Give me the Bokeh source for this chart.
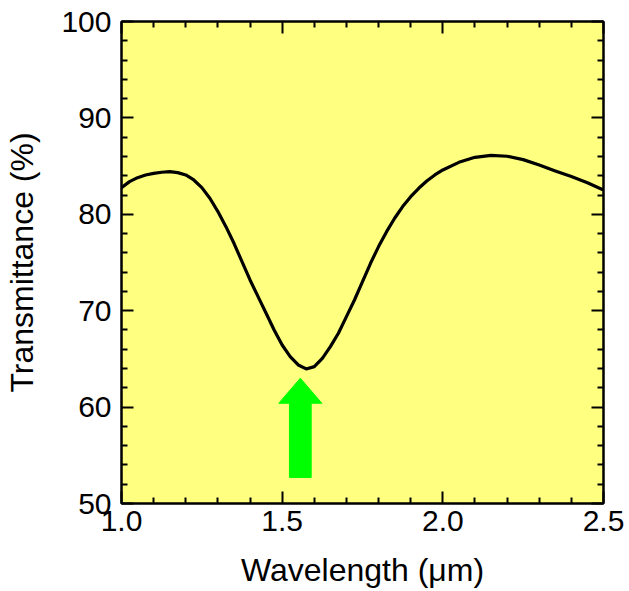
from bokeh.plotting import figure
from bokeh.models import LinearAxis, FixedTicker, Range1d, NumeralTickFormatter
from bokeh.embed import file_html
from bokeh.resources import INLINE

# Data
wavelength = [1.000, 1.025, 1.050, 1.075, 1.100, 1.125, 1.150, 1.175, 1.200, 1.225,
              1.250, 1.275, 1.300, 1.325, 1.350, 1.375, 1.400, 1.425, 1.450, 1.475,
              1.500, 1.525, 1.550, 1.575, 1.600, 1.625, 1.650, 1.675, 1.700, 1.725,
              1.750, 1.775, 1.800, 1.825, 1.850, 1.875, 1.900, 1.925, 1.950, 1.975,
              2.000, 2.050, 2.100, 2.150, 2.200, 2.250, 2.300, 2.350, 2.400, 2.450,
              2.500]
transmittance = [82.77, 83.39, 83.80, 84.08, 84.25, 84.36, 84.43, 84.32, 84.08, 83.56,
                 82.77, 81.66, 80.28, 78.72, 76.99, 75.09, 73.19, 71.46, 69.73, 68.00,
                 66.44, 65.24, 64.37, 63.96, 64.20, 65.06, 66.27, 67.66, 69.38, 71.11,
                 73.02, 74.92, 76.65, 78.20, 79.59, 80.80, 81.83, 82.70, 83.46, 84.08,
                 84.60, 85.39, 85.91, 86.12, 86.02, 85.67, 85.12, 84.50, 83.91, 83.28,
                 82.52]

x_ticks = [1.0, 1.5, 2.0, 2.5]
x_minor = [1.1, 1.2, 1.3, 1.4, 1.6, 1.7, 1.8, 1.9, 2.1, 2.2, 2.3, 2.4]
y_ticks = [50, 60, 70, 80, 90, 100]
y_minor = [52, 54, 56, 58, 62, 64, 66, 68, 72, 74, 76, 78, 82, 84, 86, 88, 92, 94, 96, 98]

# Arrow annotation (data units)
arrow_center = 1.5565
arrow_tip = 63.0
arrow_head_base = 60.4
arrow_tail = 52.7
arrow_head_half = 0.067
arrow_shaft_half = 0.0338

FONT = "Liberation Sans"

p = figure(frame_width=482, frame_height=482, output_backend="svg",
           toolbar_location=None, x_axis_location=None, y_axis_location=None,
           x_range=Range1d(1.0, 2.5), y_range=Range1d(50, 100),
           min_border_left=121, min_border_right=26, min_border_top=21,
           min_border_bottom=88)
p.background_fill_color = "#FFFF80"
p.border_fill_color = "white"
p.outline_line_color = "black"
p.outline_line_width = 2
p.xgrid.visible = False
p.ygrid.visible = False


def style_axis(ax, ticks, minor, show_labels):
    ax.ticker = FixedTicker(ticks=ticks, minor_ticks=minor)
    ax.axis_line_color = "black"
    ax.axis_line_width = 2
    ax.major_tick_in = 12
    ax.major_tick_out = 0
    ax.minor_tick_in = 6
    ax.minor_tick_out = 0
    ax.major_tick_line_width = 2
    ax.minor_tick_line_width = 2
    ax.major_tick_line_color = "black"
    ax.minor_tick_line_color = "black"
    ax.major_label_text_font = FONT
    ax.major_label_text_font_size = "30px"
    ax.major_label_text_color = "black"
    ax.axis_label_text_font = FONT
    ax.axis_label_text_font_size = "32px"
    ax.axis_label_text_font_style = "normal"
    ax.axis_label_text_color = "black"
    if not show_labels:
        ax.major_label_overrides = {t: "" for t in ticks}
        ax.major_label_standoff = 0


xb = LinearAxis(axis_label="Wavelength (μm)")
style_axis(xb, x_ticks, x_minor, True)
xb.formatter = NumeralTickFormatter(format="0.0")
xb.major_label_standoff = 7
xb.axis_label_standoff = 18
p.add_layout(xb, "below")

yl = LinearAxis(axis_label="Transmittance (%)")
style_axis(yl, y_ticks, y_minor, True)
yl.major_label_standoff = 10
yl.axis_label_standoff = 18
p.add_layout(yl, "left")

xt = LinearAxis()
style_axis(xt, x_ticks, x_minor, False)
p.add_layout(xt, "above")

yr = LinearAxis()
style_axis(yr, y_ticks, y_minor, False)
p.add_layout(yr, "right")

p.line(wavelength, transmittance, line_color="black", line_width=3.2,
       line_join="round")

ax_poly = [arrow_center, arrow_center + arrow_head_half, arrow_center + arrow_shaft_half,
           arrow_center + arrow_shaft_half, arrow_center - arrow_shaft_half,
           arrow_center - arrow_shaft_half, arrow_center - arrow_head_half]
ay_poly = [arrow_tip, arrow_head_base, arrow_head_base, arrow_tail, arrow_tail,
           arrow_head_base, arrow_head_base]
p.patch(ax_poly, ay_poly, fill_color="#00FF00", line_color="#00FF00", line_width=1)

open("out.html", "w").write(file_html(p, INLINE))
